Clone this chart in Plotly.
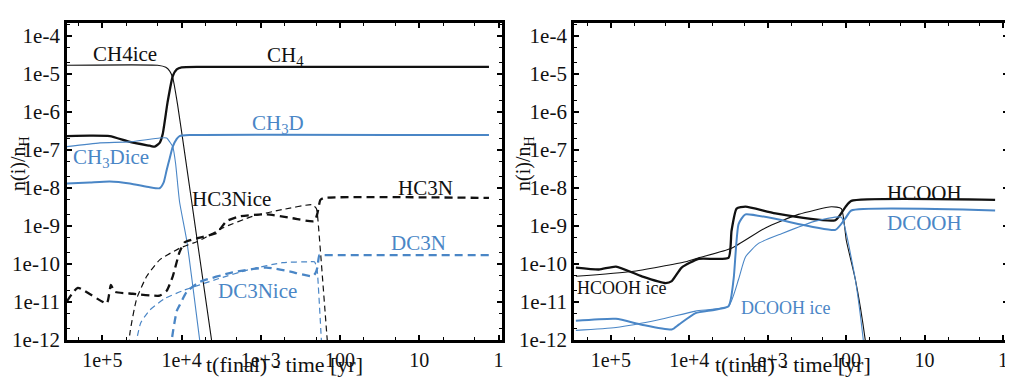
import plotly.graph_objects as go

# ---------------- data ----------------
# x: t(final) - time [yr], y: n(i)/nH
# Left panel
ch4_t = [2.8e5, 1.44e5, 8.05e4, 4.5e4, 2.52e4, 2.18e4, 1.89e4, 1.73e4, 1.5e4, 1.29e4, 1.15e4, 9.97e3, 5.9e3, 1.32]
ch4_n = [2.34e-7, 2.4e-7, 2.34e-7, 1.64e-7, 1.3e-7, 1.23e-7, 1.55e-7, 2.63e-7, 1.82e-6, 8.9e-6, 1.33e-5, 1.5e-5, 1.55e-5, 1.55e-5]

ch4ice_t = [2.8e5, 2.0e4, 1.58e4, 1.41e4, 1.29e4, 1.12e4, 8.4e3, 6.6e3, 4.18e3, 2.87e3]
ch4ice_n = [1.7e-5, 1.7e-5, 1.5e-5, 1.19e-5, 7.9e-6, 1.52e-6, 2.52e-8, 7.5e-10, 1e-12, 4.3e-15]

ch3d_t = [2.8e5, 1.44e5, 8.05e4, 4.5e4, 2.52e4, 1.89e4, 1.68e4, 1.54e4, 1.41e4, 1.29e4, 1.15e4, 1.06e4, 7.9e3, 1.32]
ch3d_n = [1.32e-8, 1.41e-8, 1.49e-8, 1.32e-8, 1.05e-8, 9.9e-9, 1.41e-8, 3.0e-8, 6.1e-8, 1.23e-7, 1.96e-7, 2.34e-7, 2.48e-7, 2.48e-7]

ch3dice_t = [2.8e5, 1.07e5, 4.5e4, 1.89e4, 1.54e4, 1.41e4, 1.29e4, 1.19e4, 1.06e4, 8.6e3, 5.9e3, 4.18e3]
ch3dice_n = [1.23e-7, 1.55e-7, 1.64e-7, 2.08e-7, 2.08e-7, 1.64e-7, 1.23e-7, 4.5e-8, 4.36e-9, 4.18e-10, 1e-12, 4.8e-15]

hc3n_t = [2.8e5, 2.04e5, 8.8e4, 7.8e4, 6.96e4, 4.13e4, 1.89e4, 1.54e4, 1.29e4, 1.06e4, 9.14e3, 5.9e3, 3.6e3, 2.7e3, 1.85e3, 848, 399, 211, 193, 177, 158, 1.32]
hc3n_n = [1.04e-11, 2.37e-11, 9.3e-12, 2.82e-11, 1.87e-11, 1.66e-11, 1.48e-11, 1.99e-11, 4.77e-11, 2.07e-10, 3.72e-10, 4.98e-10, 6.67e-10, 1.35e-9, 1.81e-9, 2.03e-9, 1.61e-9, 1.35e-9, 2.15e-9, 4.9e-9, 5.5e-9, 5.5e-9]

hc3nice_t = [4.64e4, 4.5e4, 3.68e4, 2.75e4, 1.89e4, 1.06e4, 5.9e3, 3.03e3, 1.27e3, 533, 223, 199, 193, 145, 118]
hc3nice_n = [1.15e-13, 1.42e-12, 1.24e-11, 4.77e-11, 1.29e-10, 2.61e-10, 4.18e-10, 8.95e-10, 1.81e-9, 2.72e-9, 3.65e-9, 2.89e-9, 2.03e-9, 1e-12, 4.8e-15]

dc3n_t = [1.41e4, 1.33e4, 1.15e4, 1.06e4, 8.6e3, 5.9e3, 2.27e3, 848, 435, 223, 205, 193, 182, 158, 1.32]
dc3n_n = [1.15e-13, 1e-12, 5.8e-12, 8.2e-12, 1.87e-11, 3.37e-11, 6.04e-11, 8.1e-11, 6.4e-11, 4.77e-11, 5.7e-11, 8.1e-11, 1.73e-10, 1.73e-10, 1.73e-10]

dc3nice_t = [3.9e4, 3.68e4, 3.27e4, 2.52e4, 1.63e4, 9.7e3, 3.6e3, 1.39e3, 533, 244, 211, 199, 193, 172, 158]
dc3nice_n = [1.15e-13, 1e-12, 2.87e-12, 6.15e-12, 1.24e-11, 1.99e-11, 4.0e-11, 7.2e-11, 1.09e-10, 1.15e-10, 1.15e-10, 9.1e-11, 6.04e-11, 1e-12, 3.5e-14]

# Right panel
hcooh_t = [2.79e5, 1.42e5, 8.6e4, 4.03e4, 2.0e4, 1.67e4, 1.25e4, 7.6e3, 3.16e3, 2.89e3, 2.49e3, 1.92e3, 796, 137, 102, 85.9, 1.26]
hcooh_n = [8.1e-11, 7.2e-11, 8.6e-11, 4.77e-11, 3.17e-11, 3.56e-11, 8.1e-11, 1.37e-10, 1.46e-10, 7.5e-10, 2.89e-9, 3.24e-9, 2.15e-9, 1.43e-9, 3.2e-9, 4.6e-9, 4.9e-9]

hcoohice_t = [2.79e5, 5.4e4, 1.11e4, 7.6e3, 2.89e3, 1.07e3, 405, 154, 115, 99.4, 76.4, 57, 45]
hcoohice_n = [4.77e-11, 6.4e-11, 1.15e-10, 1.46e-10, 2.61e-10, 8.95e-10, 2.03e-9, 3.24e-9, 2.89e-9, 4.18e-10, 4.0e-11, 1e-12, 1.1e-14]

dcooh_t = [2.79e5, 8.6e4, 4.03e4, 1.67e4, 1.36e4, 8.3e3, 3.16e3, 2.72e3, 2.35e3, 1.92e3, 137, 102, 85.9, 1.26]
dcooh_n = [3.23e-12, 3.63e-12, 2.55e-12, 1.9e-12, 2.55e-12, 5.15e-12, 7.8e-12, 4.0e-11, 1.13e-9, 2.03e-9, 7.96e-10, 1.61e-9, 2.57e-9, 2.57e-9]

dcoohice_t = [2.79e5, 8.6e4, 2.45e4, 8.3e3, 3.16e3, 2.35e3, 1.92e3, 1.31e3, 667, 247, 115, 99.4, 76.4, 60.4, 49.2]
dcoohice_n = [1.8e-12, 2.14e-12, 3.42e-12, 5.8e-12, 7.8e-12, 4.0e-11, 1.54e-10, 3.5e-10, 6.3e-10, 1.35e-9, 1.71e-9, 6.3e-10, 4.0e-11, 1e-12, 1.1e-14]

x_tickvals = [1e5, 1e4, 1e3, 100, 10, 1]
x_ticktext = ["1e+5", "1e+4", "1e+3", "100", "10", "1"]
y_tickvals = [1e-12, 1e-11, 1e-10, 1e-9, 1e-8, 1e-7, 1e-6, 1e-5, 1e-4]
y_ticktext = ["1e-12", "1e-11", "1e-10", "1e-9", "1e-8", "1e-7", "1e-6", "1e-5", "1e-4"]

# ---------------- styling ----------------
BLACK = "#111111"
BLUE = "#4a86c6"
FONT = "Liberation Serif, Times New Roman, Times, serif"

fig = go.Figure()

def add(t, n, color, width, dash, axis):
    fig.add_trace(go.Scatter(
        x=t, y=n, mode="lines",
        line=dict(color=color, width=width, dash=dash, shape="spline", smoothing=0.5),
        xaxis="x" if axis == 1 else "x2",
        yaxis="y" if axis == 1 else "y2",
        showlegend=False, hoverinfo="skip", cliponaxis=True,
    ))

# left panel
add(ch4ice_t, ch4ice_n, BLACK, 1.1, "solid", 1)
add(ch4_t, ch4_n, BLACK, 2.3, "solid", 1)
add(ch3dice_t, ch3dice_n, BLUE, 1.1, "solid", 1)
add(ch3d_t, ch3d_n, BLUE, 2.0, "solid", 1)
add(hc3nice_t, hc3nice_n, BLACK, 1.2, "6px,4px", 1)
add(hc3n_t, hc3n_n, BLACK, 2.3, "8px,5px", 1)
add(dc3nice_t, dc3nice_n, BLUE, 1.2, "6px,4px", 1)
add(dc3n_t, dc3n_n, BLUE, 2.3, "8px,5px", 1)
# right panel
add(hcoohice_t, hcoohice_n, BLACK, 1.1, "solid", 2)
add(hcooh_t, hcooh_n, BLACK, 2.3, "solid", 2)
add(dcoohice_t, dcoohice_n, BLUE, 1.1, "solid", 2)
add(dcooh_t, dcooh_n, BLUE, 2.0, "solid", 2)

# The page places the figure 8px to the right; compensate horizontally.
OX = 8
W, H = 1013 - OX, 378

xcommon = dict(
    type="log", tickvals=x_tickvals, ticktext=x_ticktext,
    showline=True, linecolor="black", linewidth=2.5, mirror="ticks",
    ticks="inside", ticklen=5, tickwidth=1.5, tickcolor="black",
    minor=dict(ticks="inside", ticklen=3, tickwidth=1, tickcolor="black", showgrid=False),
    showgrid=False, zeroline=False, ticklabeloverflow="allow",
    tickfont=dict(family=FONT, size=20, color=BLACK),
)
ycommon = dict(
    type="log", tickvals=y_tickvals, ticktext=y_ticktext, range=[-12, -3.67],
    showline=True, linecolor="black", linewidth=2.5, mirror="ticks",
    ticks="inside", ticklen=5, tickwidth=1.5, tickcolor="black",
    minor=dict(ticks="inside", ticklen=3, tickwidth=1, tickcolor="black", showgrid=False),
    showgrid=False, zeroline=False, ticklabeloverflow="allow",
    tickfont=dict(family=FONT, size=21, color=BLACK),
    domain=[(H - 343) / H, (H - 16) / H],
)

fig.update_layout(
    width=W, height=H,
    margin=dict(l=0, r=0, t=0, b=0),
    paper_bgcolor="white", plot_bgcolor="white",
    xaxis=dict(xcommon, domain=[(67 - OX) / W, (503 - OX) / W], range=[5.447, -0.044], anchor="y"),
    yaxis=dict(ycommon, anchor="x"),
    xaxis2=dict(xcommon, domain=[(575 - OX) / W, (1010 - OX) / W], range=[5.471, -0.064], anchor="y2"),
    yaxis2=dict(ycommon, anchor="x2"),
    font=dict(family=FONT, color=BLACK),
)

def label(text, px, py, color, size=21, angle=0):
    # px, py: centre of the text in the reference picture, in pixels
    fig.add_annotation(
        text=text, x=(px - OX) / W, y=1 - py / H, xref="paper", yref="paper",
        showarrow=False, xanchor="center", yanchor="middle",
        font=dict(family=FONT, size=size, color=color), textangle=angle,
    )

# curve labels
label("CH4ice", 125, 48, BLACK)
label("CH<sub>4</sub>", 286, 50, BLACK)
label("CH<sub>3</sub>D", 279, 120, BLUE)
label("CH<sub>3</sub>Dice", 111, 155, BLUE)
label("HC3Nice", 232, 197, BLACK)
label("HC3N", 426, 186, BLACK)
label("DC3N", 419, 243, BLUE)
label("DC3Nice", 258, 292, BLUE)
label("HCOOH", 926, 191, BLACK)
label("DCOOH", 926, 222, BLUE)
label("HCOOH ice", 623, 289, BLACK, size=18)
label("DCOOH ice", 787, 310, BLUE, size=18)

# axis titles
label("t(final) - time [yr]", 285, 368, BLACK, size=22)
label("t(tinal) - time [yr]", 795, 368, BLACK, size=22)
label("n(i)/n<sub>H</sub>", 20, 160, BLACK, size=20, angle=-90)
label("n(i)/n<sub>H</sub>", 526, 160, BLACK, size=20, angle=-90)

fig.write_html("out.html")
